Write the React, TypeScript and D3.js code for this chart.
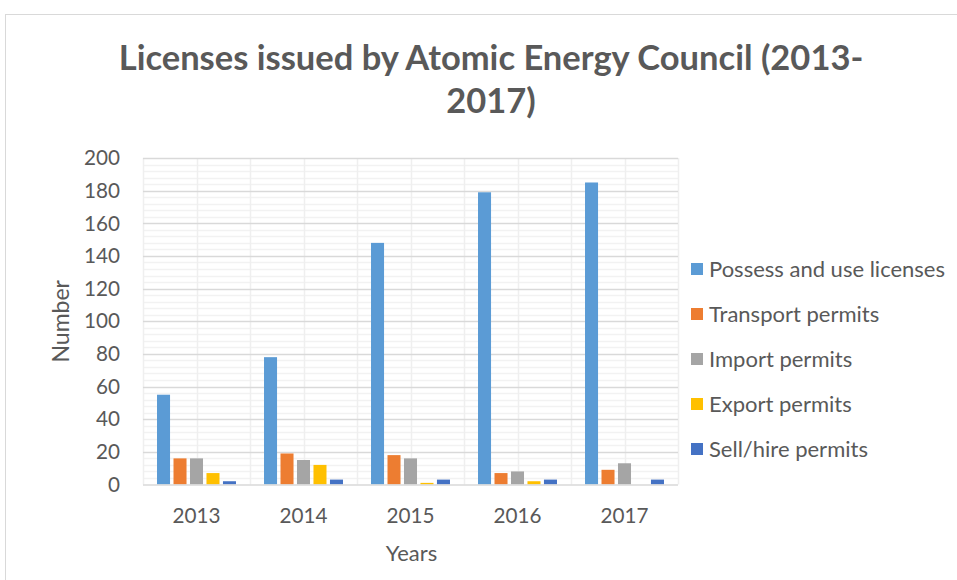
import React, { useEffect, useRef } from "react";
import * as d3 from "d3";

const years = ["2013", "2014", "2015", "2016", "2017"];
const seriesNames = [
  "Possess and use licenses",
  "Transport permits",
  "Import permits",
  "Export permits",
  "Sell/hire permits",
];
const possess = [55, 78, 148, 179, 185];
const transport = [16, 19, 18, 7, 9];
const importPermits = [16, 15, 16, 8, 13];
const exportPermits = [7, 12, 1, 2, 0];
const sellHire = [2, 3, 3, 3, 3];
const colors = ["#5b9bd5", "#ed7d31", "#a5a5a5", "#ffc000", "#4472c4"];
const yTicks = [0, 20, 40, 60, 80, 100, 120, 140, 160, 180, 200];

const W = 957;
const H = 580;
const FONT = "Lato, Calibri, 'Open Sans', sans-serif";

const App = () => {
  const ref = useRef<SVGSVGElement>(null);

  useEffect(() => {
    const svg = d3.select(ref.current);
    svg.selectAll("*").remove();

    const left = 143;
    const right = 678;
    const top = 158;
    const bottom = 484.5;

    const allSeries = [possess, transport, importPermits, exportPermits, sellHire];

    // outer chart border
    svg
      .append("rect")
      .attr("x", 5.5)
      .attr("y", 14.5)
      .attr("width", W)
      .attr("height", H)
      .attr("fill", "#fff")
      .attr("stroke", "#d9d9d9");

    const x = d3.scaleBand().domain(years).range([left, right]).padding(0);
    const y = d3.scaleLinear().domain([0, 200]).range([bottom, top]);
    const inner = d3
      .scaleBand()
      .domain(seriesNames)
      .range([x.bandwidth() * 0.131, x.bandwidth() * 0.869])
      .paddingInner(0.21)
      .paddingOuter(0);

    // minor horizontal grid
    const minor = d3.range(0, 201, 4).filter((v) => v % 20 !== 0);
    svg
      .append("g")
      .selectAll("line")
      .data(minor)
      .enter()
      .append("line")
      .attr("x1", left)
      .attr("x2", right)
      .attr("y1", (d) => Math.round(y(d)) + 0.5)
      .attr("y2", (d) => Math.round(y(d)) + 0.5)
      .attr("stroke", "#f2f2f2")
      .attr("stroke-width", 1.5);

    // vertical grid (every half category)
    const vLines = d3.range(0, 11).map((i) => left + (i * (right - left)) / 10);
    svg
      .append("g")
      .selectAll("line")
      .data(vLines)
      .enter()
      .append("line")
      .attr("x1", (d) => Math.round(d) + 0.5)
      .attr("x2", (d) => Math.round(d) + 0.5)
      .attr("y1", top)
      .attr("y2", bottom)
      .attr("stroke", "#efefef")
      .attr("stroke-width", 1.5);

    // major horizontal grid
    svg
      .append("g")
      .selectAll("line")
      .data(yTicks.slice(1))
      .enter()
      .append("line")
      .attr("x1", left)
      .attr("x2", right)
      .attr("y1", (d) => Math.round(y(d)) + 0.5)
      .attr("y2", (d) => Math.round(y(d)) + 0.5)
      .attr("stroke", "#d9d9d9")
      .attr("stroke-width", 1.5);

    // bars
    allSeries.forEach((vals, si) => {
      svg
        .append("g")
        .selectAll("rect")
        .data(vals)
        .enter()
        .append("rect")
        .attr("x", (d, i) => (x(years[i]) as number) + (inner(seriesNames[si]) as number))
        .attr("y", (d) => y(d))
        .attr("width", inner.bandwidth())
        .attr("height", (d) => bottom - y(d))
        .attr("fill", colors[si]);
    });

    // x axis line
    svg
      .append("line")
      .attr("x1", left)
      .attr("x2", right)
      .attr("y1", bottom + 0.5)
      .attr("y2", bottom + 0.5)
      .attr("stroke", "#d9d9d9")
      .attr("stroke-width", 1.5);

    // y tick labels
    svg
      .append("g")
      .selectAll("text")
      .data(yTicks)
      .enter()
      .append("text")
      .attr("x", 120)
      .attr("y", (d) => y(d))
      .attr("dy", "0.35em")
      .attr("text-anchor", "end")
      .style("font-family", FONT)
      .style("font-size", "20.7px")
      .attr("fill", "#595959")
      .text((d) => d);

    // x tick labels
    svg
      .append("g")
      .selectAll("text")
      .data(years)
      .enter()
      .append("text")
      .attr("x", (d) => (x(d) as number) + x.bandwidth() / 2)
      .attr("y", 516)
      .attr("dy", "0.35em")
      .attr("text-anchor", "middle")
      .style("font-family", FONT)
      .style("font-size", "20.7px")
      .attr("fill", "#595959")
      .text((d) => d);

    // axis titles
    svg
      .append("text")
      .attr("x", (left + right) / 2 + 1)
      .attr("y", 553)
      .attr("dy", "0.35em")
      .attr("text-anchor", "middle")
      .style("font-family", FONT)
      .style("font-size", "22px")
      .attr("fill", "#595959")
      .text("Years");

    svg
      .append("text")
      .attr("transform", `translate(61,${(top + bottom) / 2}) rotate(-90)`)
      .attr("dy", "0.35em")
      .attr("text-anchor", "middle")
      .style("font-family", FONT)
      .style("font-size", "23px")
      .attr("fill", "#595959")
      .text("Number");

    // title
    const title = svg
      .append("text")
      .attr("text-anchor", "middle")
      .style("font-family", FONT)
      .style("font-size", "34.5px")
      .style("font-weight", "bold")
      .attr("fill", "#595959");
    title.append("tspan").attr("x", 491).attr("y", 70).text("Licenses issued by Atomic Energy Council (2013-");
    title.append("tspan").attr("x", 491).attr("y", 113).text("2017)");

    // legend
    const legend = svg
      .append("g")
      .selectAll("g")
      .data(seriesNames)
      .enter()
      .append("g")
      .attr("transform", (d, i) => `translate(691,${269 + i * 45})`);
    legend
      .append("rect")
      .attr("x", 0)
      .attr("y", -6)
      .attr("width", 12)
      .attr("height", 12)
      .attr("fill", (d, i) => colors[i]);
    legend
      .append("text")
      .attr("x", 18)
      .attr("y", 0)
      .attr("dy", "0.35em")
      .style("font-family", FONT)
      .style("font-size", "22px")
      .attr("fill", "#595959")
      .text((d) => d);
  });

  return (
    <svg
      ref={ref}
      width={W}
      height={H}
      style={{ position: "absolute", left: 0, top: 0, background: "#fff" }}
    />
  );
};

export default App;
